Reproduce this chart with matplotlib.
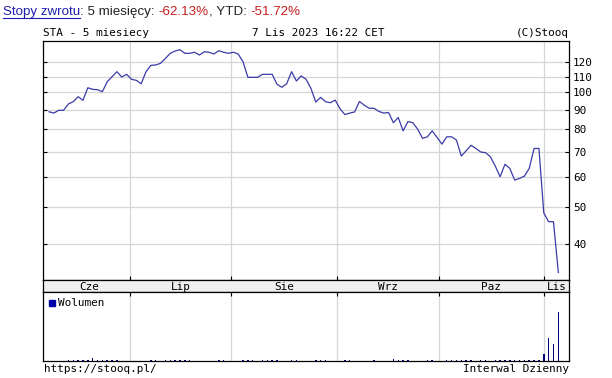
import numpy as np
import matplotlib.pyplot as plt
from matplotlib.lines import Line2D
from matplotlib.patches import Rectangle
from matplotlib.ticker import FixedLocator, NullLocator

# daily close prices (about 5 months, Jun 7 - Nov 7 2023)
prices = [
    89.0, 88.3, 89.8, 89.8, 93.3, 94.6, 97.5, 95.4, 102.9, 101.9,
    101.7, 100.5, 106.7, 110.0, 113.4, 109.8, 111.6, 108.3, 107.6, 105.4,
    113.4, 117.8, 118.1, 119.3, 122.9, 126.7, 128.5, 129.5, 126.7, 126.7,
    127.5, 125.4, 127.9, 127.5, 126.2, 128.7, 127.5, 126.7, 127.5, 126.2,
    120.4, 109.6, 109.6, 109.6, 111.6, 111.6, 111.6, 105.1, 103.2, 105.4,
    113.4, 107.2, 110.5, 108.3, 102.5, 94.4, 97.1, 94.6, 94.0, 95.5,
    90.6, 87.5, 88.3, 88.9, 94.7, 92.6, 90.9, 90.9, 89.2, 88.3,
    88.6, 83.3, 86.0, 79.3, 83.9, 83.3, 80.1, 75.8, 76.5, 79.3,
    76.2, 73.2, 76.5, 76.5, 75.0, 68.1, 70.3, 72.7, 71.3, 69.8,
    69.5, 67.8, 64.1, 60.1, 64.8, 63.2, 58.9, 59.5, 60.3, 63.2,
    71.3, 71.3, 48.3, 45.8, 45.8, 33.7,
]

volume = [
    3, 3, 3, 3, 10, 10, 10, 10, 10, 30,
    10, 10, 10, 10, 10, 3, 3, 3, 3, 3,
    3, 10, 10, 3, 10, 10, 10, 10, 10, 10,
    3, 3, 3, 3, 3, 10, 10, 3, 3, 3,
    10, 10, 10, 3, 10, 10, 10, 10, 3, 3,
    10, 10, 3, 3, 3, 10, 10, 10, 3, 3,
    3, 10, 10, 3, 3, 3, 3, 10, 3, 3,
    3, 25, 10, 10, 10, 3, 3, 3, 10, 10,
    3, 3, 10, 10, 10, 10, 10, 10, 3, 10,
    10, 3, 10, 12, 10, 10, 12, 10, 10, 15,
    10, 10, 73, 230, 173, 490,
]

months = ['Cze', 'Lip', 'Sie', 'Wrz', 'Paz', 'Lis']
month_edges = [16.7, 37.6, 59.4, 80.3, 102.1]
price_ticks = [40, 50, 60, 70, 80, 90, 100, 110, 120]

W, H = 612, 378
LINE = '#3b3ba8'
GRID = '#d6d6d6'
MONO = 'DejaVu Sans Mono'
FS = 7.9


def box(left, top, right, bottom):
    return [left / W, 1 - bottom / H, (right - left) / W, (bottom - top) / H]


fig = plt.figure(figsize=(W / 100, H / 100), dpi=100)

x = np.arange(len(prices))
xlim = (-1.24, 107.2)

# main price panel
ax = fig.add_axes(box(43, 41, 569, 280))
ax.plot(x, prices, color=LINE, lw=0.9)
ax.set_yscale('log')
ax.set_ylim(32.2, 136.5)
ax.set_xlim(*xlim)
ax.yaxis.set_major_locator(FixedLocator(price_ticks))
ax.yaxis.set_minor_locator(NullLocator())
ax.set_yticklabels([str(t) for t in price_ticks], fontfamily=MONO, fontsize=FS)
ax.set_xticks(month_edges)
ax.set_xticklabels([])
ax.grid(True, color=GRID, lw=0.9)
ax.set_axisbelow(True)
ax.tick_params(axis='y', left=True, right=True, labelleft=False, labelright=True,
               direction='in', length=3, width=0.8, pad=3)
ax.tick_params(axis='x', direction='in', length=3, width=0.8)

# month label band
band = fig.add_axes(box(43, 280, 569, 292))
band.set_facecolor('#efefef')
band.set_xlim(*xlim)
band.set_xticks([])
band.set_yticks([])
starts = [0] + month_edges
ends = month_edges + [xlim[1]]
for name, a, b in zip(months, starts, ends):
    band.text((a + b) / 2, 0.4, name, ha='center', va='center',
              fontfamily=MONO, fontsize=FS, transform=band.get_xaxis_transform())

# volume panel
axv = fig.add_axes(box(43, 292, 569, 361))
axv.bar(x, volume, width=0.3, color='#00007a', linewidth=0)
axv.set_xlim(*xlim)
axv.set_ylim(0, 690)
axv.set_yticks([])
axv.set_xticks(month_edges)
axv.set_xticklabels([])
axv.xaxis.tick_top()
axv.tick_params(axis='x', direction='in', length=3, width=0.8)
axv.grid(True, axis='x', color=GRID, lw=0.9)
axv.set_axisbelow(True)
for a in (ax, band, axv):
    for s in a.spines.values():
        s.set_linewidth(0.9)

fig.add_artist(Rectangle((49 / W, 1 - 306 / H), 6.5 / W, 6.5 / H,
                         transform=fig.transFigure, color='#0000aa'))
fig.text(58 / W, 1 - 302.5 / H, 'Wolumen', fontfamily=MONO, fontsize=FS, va='center')

# header
fig.text(43 / W, 1 - 33 / H, 'STA - 5 miesiecy', fontfamily=MONO, fontsize=FS, va='center')
fig.text(252 / W, 1 - 33 / H, '7 Lis 2023 16:22 CET', fontfamily=MONO, fontsize=FS, va='center')
fig.text(569 / W, 1 - 33 / H, '(C)Stooq', fontfamily=MONO, fontsize=FS, va='center', ha='right')

# footer
fig.text(44 / W, 1 - 369 / H, 'https://stooq.pl/', fontfamily=MONO, fontsize=FS, va='center')
fig.text(569 / W, 1 - 369 / H, 'Interwal Dzienny', fontfamily=MONO, fontsize=FS,
         va='center', ha='right')

# title line built piece by piece
renderer = fig.canvas.get_renderer()
pieces = [('Stopy zwrotu', '#1f1fb0'), (': 5 miesięcy: ', '#222222'),
          ('-62.13%', '#c81e1e'), (', YTD: ', '#222222'), ('-51.72%', '#c81e1e')]
xpos = 3
for i, (txt, col) in enumerate(pieces):
    t = fig.text(xpos / W, 1 - 12 / H, txt, color=col, fontfamily='Liberation Sans',
                 fontsize=9.6, va='center')
    bb = t.get_window_extent(renderer)
    if i == 0:
        fig.add_artist(Line2D([xpos / W, (xpos + bb.width) / W],
                              [1 - 17.5 / H, 1 - 17.5 / H], color=col, lw=0.8,
                              transform=fig.transFigure))
    xpos += bb.width

fig.savefig('out.png', dpi=100)
